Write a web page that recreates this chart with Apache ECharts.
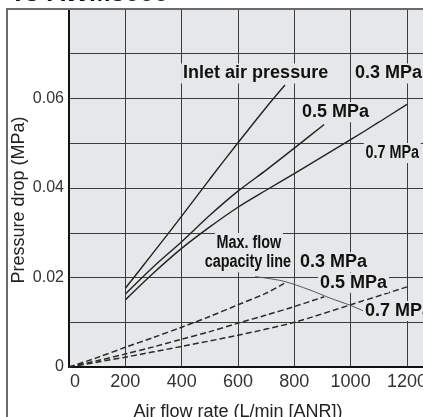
<!DOCTYPE html>
<html><head><meta charset="utf-8">
<script src="https://cdn.jsdelivr.net/npm/echarts@6/dist/echarts.min.js"></script>
<style>html,body{margin:0;padding:0;background:#fff}#c{width:423px;height:417px}</style>
</head><body><div id="c"></div>
<script>
// ---- data (flow L/min [ANR], pressure drop MPa) ----
const flowTickStep = 200;
const dropTickStep = 0.01;
const solid03 = [[200,0.0176],[300,0.0256],[400,0.0337],[500,0.0420],[600,0.0501],[700,0.0580],[767,0.0630]];
const solid05 = [[200,0.0163],[300,0.0224],[400,0.0280],[500,0.0339],[600,0.0393],[700,0.0440],[800,0.0489],[906,0.0542]];
const solid07 = [[200,0.0150],[300,0.0210],[400,0.0265],[500,0.0313],[600,0.0357],[700,0.0395],[800,0.0432],[900,0.0470],[1000,0.0508],[1100,0.0547],[1200,0.0587]];
const dash03 = [[0,0],[100,0.0021],[200,0.0044],[300,0.0066],[400,0.0089],[500,0.0113],[600,0.0139],[700,0.0165],[767,0.0188]];
const dash05 = [[0,0],[100,0.0014],[200,0.0029],[300,0.0045],[400,0.0062],[500,0.0079],[600,0.0098],[700,0.0116],[800,0.0135],[906,0.0157]];
const dash07 = [[0,0],[200,0.0022],[400,0.0046],[600,0.0071],[800,0.0100],[1000,0.0139],[1200,0.0179]];
const capacityLine = [[661,0.0202],[760,0.0192],[856,0.0172],[927,0.0154],[998,0.0138],[1050,0.0124]];
// annotation texts anchored at data coordinates (left edge, vertical middle)
const noteTexts = ['Inlet air pressure','0.3 MPa','0.5 MPa','0.7 MPa','Max. flow','capacity line','0.3 MPa','0.5 MPa','0.7 MPa'];
const noteAnchors = [[398,0.0656],[1008,0.0656],[820,0.0569],[1047,0.0478],[518,0.0277],[476,0.0234],[813,0.0234],[884,0.0188],[1044,0.0125]];
const noteNarrow = [false,false,false,true,true,true,false,false,false];

const BG = '#e6e7e8';
const chart = echarts.init(document.getElementById('c'), null, {renderer:'canvas'});
const solidStyle = {color:'#222', width:1.4};
const dashStyle = {color:'#2a2a2a', width:1.5, type:[6,3]};
function mk(name, data, ls){
  return {name, type:'line', data, smooth:0.3, showSymbol:false, symbol:'none', lineStyle:ls, z:3, animation:false};
}
chart.setOption({
  animation:false,
  backgroundColor:'#ffffff',
  grid:{left:69, top:9, right:0, bottom:50, show:true, backgroundColor:BG, borderWidth:0, containLabel:false, outerBoundsMode:'none'},
  xAxis:{type:'value', min:0, max:1257, interval:flowTickStep,
    name:'Air flow rate (L/min [ANR])', nameLocation:'middle', nameGap:36, nameMoveOverlap:false,
    nameTextStyle:{fontFamily:'Liberation Sans, Arial', fontSize:18, color:'#222', padding:[0,16,0,0]},
    axisLine:{show:true, onZero:false, lineStyle:{color:'#111', width:2}},
    axisTick:{show:false},
    axisLabel:{margin:6, fontFamily:'Liberation Sans, Arial', fontSize:18, color:'#333', showMaxLabel:true,
      formatter:v => (Math.round(v) % 200 !== 0) ? '' : (v===0 ? '{z|0}' : String(v)),
      rich:{z:{fontFamily:'Liberation Sans, Arial', fontSize:18, color:'#333', padding:[0,0,0,12]}}},
    splitLine:{show:true, lineStyle:{color:'#3c3c3c', width:1}}
  },
  yAxis:{type:'value', min:0, max:0.08, interval:dropTickStep,
    name:'Pressure drop (MPa)', nameLocation:'middle', nameGap:41, nameMoveOverlap:false,
    nameTextStyle:{fontFamily:'Liberation Sans, Arial', fontSize:18, color:'#222', padding:[0,24,0,0]},
    axisLine:{show:true, onZero:false, lineStyle:{color:'#111', width:2}},
    axisTick:{show:false},
    axisLabel:{margin:5, fontFamily:'Liberation Sans, Arial', fontSize:16, color:'#333',
      formatter:v => { const k = Math.round(v*100); if (k===0) return '0'; if (k%2!==0 || k===8) return ''; return v.toFixed(2); }},
    splitLine:{show:true, lineStyle:{color:'#3c3c3c', width:1}}
  },
  series:[
    mk('0.3 MPa', solid03, solidStyle),
    mk('0.5 MPa', solid05, solidStyle),
    mk('0.7 MPa', solid07, solidStyle),
    mk('0.3 MPa max flow', dash03, dashStyle),
    mk('0.5 MPa max flow', dash05, dashStyle),
    mk('0.7 MPa max flow', dash07, dashStyle),
    mk('Max. flow capacity line', capacityLine, {color:'#555', width:1})
  ]
});

const graphics = [
  {type:'rect', silent:true, z:10, shape:{x:7, y:9, width:700, height:700}, style:{fill:null, stroke:'#6a6a6a', lineWidth:2}},
  {type:'text', silent:true, z:10, style:{text:'To AWM3000', x:10, y:7, verticalAlign:'bottom', font:'bold 26px "Liberation Sans", Arial', fill:'#111'}}
];
noteTexts.forEach((t,i) => {
  const p = chart.convertToPixel({gridIndex:0}, noteAnchors[i]);
  graphics.push({type:'text', silent:true, z:20, x:p[0], y:p[1], scaleX: noteNarrow[i] ? 0.8 : 1,
    style:{text:t, x:0, y:0, align:'left', verticalAlign:'middle',
      font:'bold 18px "Liberation Sans", Arial',
      fill:'#111', backgroundColor:BG, padding:[1,2,1,2]}});
});
chart.setOption({graphic:graphics});
</script></body></html>
